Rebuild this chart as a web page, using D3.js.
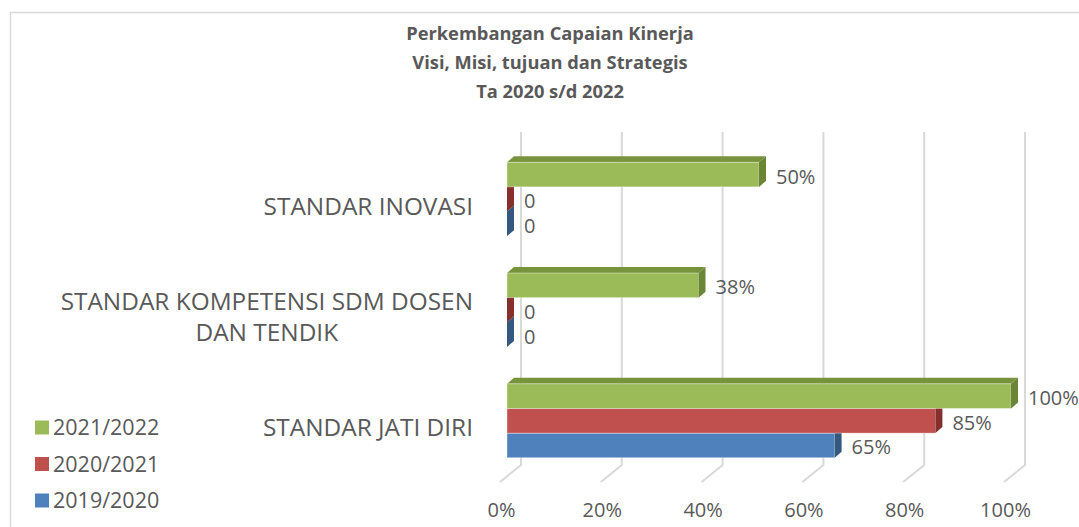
<!DOCTYPE html>
<html>
<head>
<meta charset="utf-8">
<script src="https://cdn.jsdelivr.net/npm/d3@7"></script>
<style>
  body { margin: 0; background: #fff; }
  svg { display: block; font-family: "Open Sans", sans-serif; }
</style>
</head>
<body>
<div id="chart"></div>
<script>
const titleLines = ['Perkembangan Capaian Kinerja', 'Visi, Misi, tujuan dan Strategis', 'Ta 2020 s/d 2022'];
const categories = ['STANDAR INOVASI', 'STANDAR KOMPETENSI SDM DOSEN\nDAN TENDIK', 'STANDAR JATI DIRI'];
const seriesNames = ['2021/2022', '2020/2021', '2019/2020'];
const values2021_2022 = [50, 38, 100];
const values2020_2021 = [0, 0, 85];
const values2019_2020 = [0, 0, 65];
const xTicks = [0, 20, 40, 60, 80, 100];

const seriesValues = [values2021_2022, values2020_2021, values2019_2020];
const colors = {
  '2021/2022': { front: '#9bbb59', top: '#77933c', side: '#6a8535' },
  '2020/2021': { front: '#c0504d', top: '#943634', side: '#862f2d' },
  '2019/2020': { front: '#4f81bd', top: '#376092', side: '#34587f' },
};

const W = 1079, H = 527;
const DX = 7, DY = -6;          // bar depth
const WALL_DX = 14, FLOOR_DX = -7;

const svg = d3.select('#chart').append('svg')
  .attr('width', W).attr('height', H);

// chart border (cropped on right / bottom)
svg.append('rect')
  .attr('x', 10.5).attr('y', 12.5).attr('width', 1200).attr('height', 700)
  .attr('fill', 'none').attr('stroke', '#d9d9d9').attr('stroke-width', 1.5);

const x = d3.scaleLinear().domain([0, 100]).range([507, 1011]);
const y = d3.scaleBand().domain(categories).range([129, 491]).paddingInner(0.333).paddingOuter(0.3);
const yInner = d3.scaleBand().domain(seriesNames).range([0, y.bandwidth()]);

// title
svg.append('g').selectAll('text')
  .data(titleLines)
  .join('text')
  .attr('x', 550)
  .attr('y', (d, i) => 34 + i * 29)
  .attr('dy', '0.35em')
  .attr('text-anchor', 'middle')
  .attr('font-size', 18.3)
  .attr('font-weight', 'bold')
  .attr('fill', '#595959')
  .text(d => d);

// gridlines on back wall + floor
svg.append('g').selectAll('path')
  .data(xTicks)
  .join('path')
  .attr('d', d => `M${x(d) + WALL_DX},132V465L${x(d) + FLOOR_DX},482`)
  .attr('fill', 'none')
  .attr('stroke', '#d9d9d9')
  .attr('stroke-width', 2);

// x axis labels
svg.append('g')
  .attr('transform', 'translate(-6,503)')
  .call(d3.axisBottom(x).tickValues(xTicks).tickSize(0).tickPadding(0).tickFormat(d => d + '%'))
  .call(g => g.select('.domain').remove())
  .call(g => g.selectAll('text')
    .attr('font-family', '"Open Sans", sans-serif')
    .attr('font-size', 20)
    .attr('fill', '#595959'));

// bars, drawn bottom series first so upper front faces cover lower top faces
const bars = [];
categories.forEach((c, ci) => {
  seriesNames.forEach((s, si) => {
    bars.push({ cat: c, series: s, value: seriesValues[si][ci], order: si });
  });
});
bars.sort((a, b) => b.order - a.order);

const barG = svg.append('g');
bars.forEach(b => {
  const y0 = y(b.cat) + yInner(b.series);
  const y1 = y0 + yInner.bandwidth();
  const x0 = x(0), x1 = x(b.value);
  const col = colors[b.series];
  const g = barG.append('g');
  if (x1 > x0) {
    g.append('path')
      .attr('d', `M${x0},${y0}L${x0 + DX},${y0 + DY}L${x1 + DX},${y0 + DY}L${x1},${y0}Z`)
      .attr('fill', col.top);
    g.append('rect')
      .attr('x', x0).attr('y', y0).attr('width', x1 - x0).attr('height', y1 - y0)
      .attr('fill', col.front)
      .attr('stroke', 'rgba(255,255,255,0.5)').attr('stroke-width', 0.75);
  }
  g.append('path')
    .attr('d', `M${x1},${y0}L${x1 + DX},${y0 + DY}L${x1 + DX},${y1 + DY}L${x1},${y1}Z`)
    .attr('fill', col.side);
});

// data labels
svg.append('g').selectAll('text')
  .data(bars)
  .join('text')
  .attr('x', d => x(d.value) + 17)
  .attr('y', d => y(d.cat) + yInner(d.series) + yInner.bandwidth() / 2 + 2)
  .attr('dy', '0.35em')
  .attr('font-size', 20)
  .attr('fill', '#595959')
  .text(d => d.value === 0 ? '0' : d.value + '%');

// category labels, block right-aligned at 473, lines centered
const catG = svg.append('g');
categories.forEach(c => {
  const lines = c.split('\n');
  const cy = y(c) + y.bandwidth() / 2 + 7;
  const t = catG.append('text')
    .attr('font-size', 24.4)
    .attr('fill', '#595959')
    .attr('text-anchor', 'middle');
  const spans = lines.map((l, i) => t.append('tspan')
    .attr('y', cy + (i - (lines.length - 1) / 2) * 31)
    .attr('dy', '0.35em')
    .text(l));
  const maxW = d3.max(spans, s => s.node().getComputedTextLength());
  spans.forEach(s => s.attr('x', 473 - maxW / 2));
});

// legend
const legend = svg.append('g').selectAll('g')
  .data(seriesNames)
  .join('g')
  .attr('transform', (d, i) => `translate(35,${427.5 + i * 36.5})`);
legend.append('rect')
  .attr('x', 0).attr('y', -7).attr('width', 14).attr('height', 14)
  .attr('fill', d => colors[d].front);
legend.append('text')
  .attr('x', 18).attr('dy', '0.35em')
  .attr('font-size', 21.5)
  .attr('fill', '#595959')
  .text(d => d);
</script>
</body>
</html>
